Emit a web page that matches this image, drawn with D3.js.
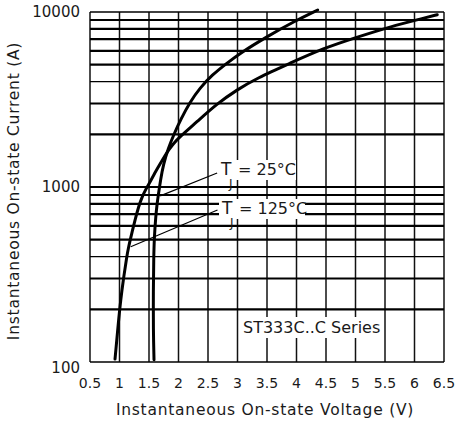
<!DOCTYPE html>
<html><head><meta charset="utf-8">
<script src="https://cdn.jsdelivr.net/npm/d3@7"></script>
<style>
html,body{margin:0;padding:0;background:#fff;}
text{font-family:"DejaVu Sans",sans-serif;fill:#1a1a1a;}
</style></head>
<body>
<svg id="c" width="456" height="432"></svg>
<script>
// ---- data ----
const xTickLabels = [0.5,1,1.5,2,2.5,3,3.5,4,4.5,5,5.5,6,6.5];
const yTickLabels = [100,1000,10000];
// Tj = 25°C curve: voltage (V) and current (A)
const v25 = [1.585,1.573,1.573,1.580,1.590,1.614,1.636,1.661,1.695,1.746,1.822,1.924,2.042,2.195,2.364,2.568,2.817,3.042,3.495,3.975,4.359];
const i25 = [103,152,258,398,518,674,800,912,1096,1353,1649,2009,2447,3060,3679,4365,5092,5808,7225,8884,10266];
// Tj = 125°C curve
const v125 = [0.924,0.980,1.020,1.064,1.122,1.153,1.207,1.263,1.322,1.381,1.449,1.517,1.585,1.658,1.800,1.907,2.025,2.308,2.647,2.986,3.325,3.890,4.454,5.020,5.585,6.149,6.386];
const i125 = [104,167,226,294,398,454,542,648,769,877,974,1068,1179,1301,1574,1761,1939,2351,2981,3584,4180,5092,6202,7167,8241,9204,9652];
const labels = ["25°C","125°C"];
const seriesName = "ST333C..C Series";

// ---- chart ----
const svg = d3.select("#c");
const x = d3.scaleLinear().domain([0.5,6.5]).range([90,444]);
const y = d3.scaleLog().domain([100,10000]).range([362,12]);

const g = svg.append("g");
// vertical grid
g.selectAll(".vg").data(xTickLabels).enter().append("line")
  .attr("x1",d=>x(d)).attr("x2",d=>x(d)).attr("y1",y(10000)).attr("y2",y(100))
  .attr("stroke","#111").attr("stroke-width",1.5);
// horizontal grid
const yGrid = y.ticks();
g.selectAll(".hg").data(yGrid).enter().append("line")
  .attr("x1",x(0.5)).attr("x2",x(6.5)).attr("y1",d=>y(d)).attr("y2",d=>y(d))
  .attr("stroke","#000")
  .attr("stroke-width",d=>{const m=d/Math.pow(10,Math.floor(Math.log10(d)+1e-9)); if(d===100||d===10000) return 1.5; if(Math.abs(m-4)<1e-6) return 1.3; return 2.2;});

// series label box
g.append("rect").attr("x",240).attr("y",317).attr("width",x(5.5)-240-1).attr("height",21).attr("fill","#fff");
svg.append("text").attr("x",243).attr("y",333).attr("font-size",16).text(seriesName);

// Tj labels
function tjLabel(tx,ty,txt,w){
  svg.append("rect").attr("x",tx-3).attr("y",ty-15).attr("width",w).attr("height",20).attr("fill","#fff");
  svg.append("text").attr("x",tx).attr("y",ty).attr("font-size",17).text("T");
  svg.append("text").attr("x",tx+8).attr("y",ty+13).attr("font-size",12).text("J");
  svg.append("text").attr("x",tx+17).attr("y",ty).attr("font-size",16).text("= "+txt);
}
// leader lines
const leaders = [
  {a:[1.69,890], b:[2.655,1202]},
  {a:[1.19,456], b:[2.661,739]}
];
svg.selectAll(".ld").data(leaders).enter().append("line")
  .attr("x1",d=>x(d.a[0])).attr("y1",d=>y(d.a[1])).attr("x2",d=>x(d.b[0])).attr("y2",d=>y(d.b[1]))
  .attr("stroke","#000").attr("stroke-width",1.2);

// curves
const line = d3.line().x(d=>x(d[0])).y(d=>y(d[1])).curve(d3.curveBasis);
const d25 = v25.map((v,i)=>[v,i25[i]]);
const d125 = v125.map((v,i)=>[v,i125[i]]);
[d25,d125].forEach(d=>{
  svg.append("path").attr("d",line(d)).attr("fill","none").attr("stroke","#000").attr("stroke-width",3).attr("stroke-linejoin","round").attr("stroke-linecap","round");
});

tjLabel(221,175,labels[0],78);
tjLabel(222,214,labels[1],86);

// axis tick labels
svg.selectAll(".xt").data(xTickLabels).enter().append("text")
  .attr("x",d=>x(d)).attr("y",388).attr("text-anchor","middle").attr("font-size",14).text(d=>d);
svg.selectAll(".yt").data(yTickLabels).enter().append("text")
  .attr("x",80).attr("y",d=>y(d)+(d===100?11:5)).attr("text-anchor","end").attr("font-size",15).text(d=>d);

// titles
svg.append("text").attr("x",265).attr("y",415).attr("text-anchor","middle").attr("font-size",15.5).attr("letter-spacing",0.75)
  .text("Instantaneous On-state Voltage (V)");
svg.append("text").attr("transform","translate(19,191) rotate(-90)").attr("text-anchor","middle").attr("font-size",15.5).attr("letter-spacing",0.75)
  .text("Instantaneous On-state Current (A)");
</script>
</body></html>
